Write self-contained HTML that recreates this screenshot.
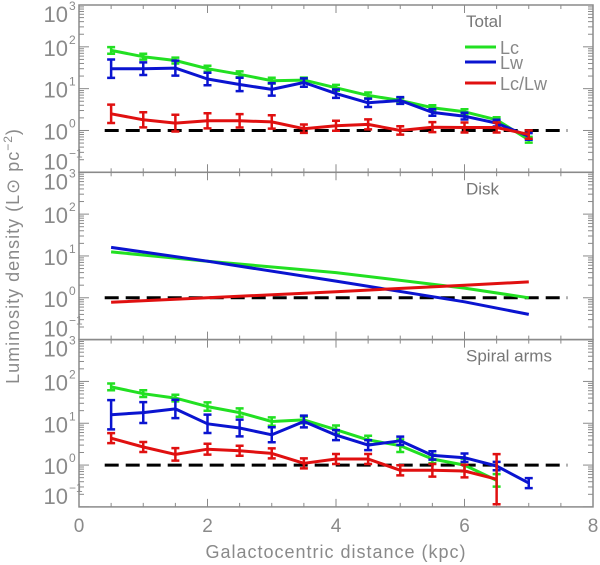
<!DOCTYPE html>
<html><head><meta charset="utf-8"><style>
html,body{margin:0;padding:0;background:#fff}
svg{display:block;font-family:"Liberation Sans","DejaVu Sans",sans-serif}
</style></head><body>
<svg id="chart" width="600" height="565" viewBox="0 0 600 565"></svg>
<script>
const xs = [0.5,1,1.5,2,2.5,3,3.5,4,4.5,5,5.5,6,6.5,7];
// Total panel
const totLc = [82,58,47,30,22,15.5,16,10.5,6.9,5.2,3.5,2.8,1.8,0.6];
const totLw = [30,30,31,17,12.6,9.6,14,7.6,4.6,5.2,2.7,2.2,1.5,0.72];
const totRatio = [2.5,1.8,1.5,1.7,1.7,1.6,1.1,1.3,1.4,1.0,1.2,1.18,1.18,0.8];
const totLcErr = [0.08,0.07,0.07,0.07,0.07,0.07,0.06,0.07,0.07,0.06,0.06,0.06,0.06,0.07];
const totLwErr = [0.22,0.15,0.18,0.15,0.16,0.15,0.1,0.1,0.1,0.08,0.08,0.08,0.08,0.08];
const totRatioErr = [0.22,0.18,0.2,0.18,0.16,0.16,0.1,0.12,0.12,0.1,0.12,0.12,0.12,0.1];
// Disk panel
const diskX = [0.5,2,4,6,7];
const diskLc = [12.5,7.5,4,1.7,1.0];
const diskLw = [16,7.5,2.5,0.8,0.4];
const diskRatio = [0.78,1.0,1.4,2.0,2.4];
// Spiral arms panel
const spXs = [0.5,1,1.5,2,2.5,3,3.5,4,4.5,5,5.5,6,6.5];
const spLc = [74,51,40,25,18,11,12,7,4,2.9,1.4,1.0,0.43];
const spLw = [16,18,22,9.7,7.7,5.3,11,5.2,3.0,3.8,1.7,1.5,0.95,0.37];
const spRatio = [4.4,2.7,1.8,2.4,2.2,1.9,1.1,1.4,1.4,0.75,0.75,0.72,0.46];
const spLcErr = [0.08,0.08,0.08,0.1,0.1,0.1,0.08,0.1,0.1,0.15,0.1,0.15,0.15];
const spLwErr = [0.35,0.25,0.22,0.22,0.2,0.18,0.14,0.12,0.12,0.1,0.1,0.1,0.1,0.12];
const spRatioErr = [0.12,0.12,0.15,0.13,0.12,0.12,0.12,0.12,0.12,0.12,0.15,0.15,0.6];
const xTicks = [0,2,4,6,8];
const panelNames = ["Total","Disk","Spiral arms"];

const NS = "http://www.w3.org/2000/svg";
const svg = document.getElementById("chart");
const X0 = 79, X1 = 593, TOP = 5, PH = 167.3, DEC = PH/4;
function sx(v){ return X0 + (v/8)*(X1-X0); }
function sy(p, v){ return TOP + p*PH + (3 - Math.log10(v))*DEC; }
function el(tag, attrs, parent){
  const e = document.createElementNS(NS, tag);
  for (const k in attrs) e.setAttribute(k, attrs[k]);
  (parent||svg).appendChild(e);
  return e;
}
const GREY = "#8a8a8a";

function axes(p){
  const g = el("g", {});
  
  
  const y0 = TOP + p*PH, y1 = y0 + PH;
  el("rect", {x:X0, y:y0, width:X1-X0, height:PH, fill:"none", stroke:GREY, "stroke-width":1.5}, g);
  for (let v=0; v<=8.001; v+=0.5){
    const major = Math.abs(v/2 - Math.round(v/2))<1e-6;
    const len = major ? 8 : 4;
    el("line",{x1:sx(v),x2:sx(v),y1:y1,y2:y1-len,stroke:GREY,"stroke-width":1},g);
    el("line",{x1:sx(v),x2:sx(v),y1:y0,y2:y0+len,stroke:GREY,"stroke-width":1},g);
  }
  for (let d=-1; d<3; d++){
    for (let m=1; m<10; m++){
      const v = m*Math.pow(10,d);
      const y = sy(p,v);
      const len = m===1 ? 10 : 5;
      el("line",{x1:X0,x2:X0+len,y1:y,y2:y,stroke:GREY,"stroke-width":1},g);
      el("line",{x1:X1,x2:X1-len,y1:y,y2:y,stroke:GREY,"stroke-width":1},g);
    }
  }
  const labs = [[3,8],[2,0],[1,0],[0,0],[-1,-12]];
  labs.forEach(([e,off])=>{
    const t = el("text",{x:X0-11,y:sy(p,Math.pow(10,e))+9+off,"text-anchor":"end","font-size":22,fill:GREY},g);
    
    
    t.textContent = "10";
    const s = el("text",{x:X0-10,y:sy(p,Math.pow(10,e))-3+off,"font-size":12,fill:GREY},g);
    s.textContent = e===-1 ? "−1" : String(e);
  });
  const dl = el("line",{x1:sx(0.4),x2:sx(7.6),y1:sy(p,1),y2:sy(p,1),stroke:"#000","stroke-width":3,"stroke-dasharray":"14,7"},g);
  
  
  const tt = el("text",{x:466,y:y0+22,"font-size":17,fill:"#777"},g);
  
  
  tt.textContent = panelNames[p];
}
function series(p, xv, yv, err, color, name){
  const pts = [];
  for (let i=0;i<yv.length;i++){
    if (yv[i] <= 0) continue;
    pts.push(sx(xv[i]).toFixed(1)+","+sy(p,yv[i]).toFixed(1));
  }
  const pl = el("polyline",{points:pts.join(" "),fill:"none",stroke:color,"stroke-width":3,"stroke-linejoin":"round"});
  
  
  if (!err) return;
  for (let i=0;i<yv.length;i++){
    const x = sx(xv[i]);
    const bot = Math.min(sy(p,yv[i]/Math.pow(10,err[i])), TOP+(p+1)*PH);
    const top = sy(p,yv[i]*Math.pow(10,err[i]));
    const eb = el("path",{d:`M${x},${top}V${bot}M${x-4},${top}H${x+4}M${x-4},${bot}H${x+4}`,stroke:color,"stroke-width":2.5,fill:"none"});
    
    
  }
}
[0,1,2].forEach(axes);
series(0, xs, totLc, totLcErr, "#22e022", "total-lc");
series(0, xs, totLw, totLwErr, "#0a14d0", "total-lw");
series(0, xs, totRatio, totRatioErr, "#e01010", "total-ratio");
series(1, diskX, diskLc, null, "#22e022", "disk-lc");
series(1, diskX, diskLw, null, "#0a14d0", "disk-lw");
series(1, diskX, diskRatio, null, "#e01010", "disk-ratio");
series(2, spXs, spLc, spLcErr, "#22e022", "spiral-lc");
series(2, xs, spLw, spLwErr, "#0a14d0", "spiral-lw");
series(2, spXs, spRatio, spRatioErr, "#e01010", "spiral-ratio");
const leg = [["Lc","#22e022",47],["Lw","#0a14d0",62],["Lc/Lw","#e01010",83]];
leg.forEach(([t,c,y])=>{
  const l = el("line",{x1:465,x2:496,y1:y,y2:y,stroke:c,"stroke-width":3});
  
  
  const tx = el("text",{x:500,y:y+7,"font-size":18,fill:"#888"});
  
  
  tx.textContent = t;
});
xTicks.forEach(v=>{
  const t = el("text",{x:sx(v),y:532,"text-anchor":"middle","font-size":19,fill:GREY});
  
  
  t.textContent = String(v);
});
const xt = el("text",{x:sx(4),y:558,"text-anchor":"middle","font-size":18,fill:GREY,"letter-spacing":"1"});


xt.textContent = "Galactocentric distance (kpc)";
const yt = el("text",{x:0,y:0,"text-anchor":"middle","font-size":18,fill:GREY,"letter-spacing":"1",transform:"translate(19,256) rotate(-90)"});


yt.innerHTML = 'Luminosity density (L⊙ pc<tspan dy="-7" font-size="12">−2</tspan><tspan dy="7">)</tspan>';
</script>
</body></html>
